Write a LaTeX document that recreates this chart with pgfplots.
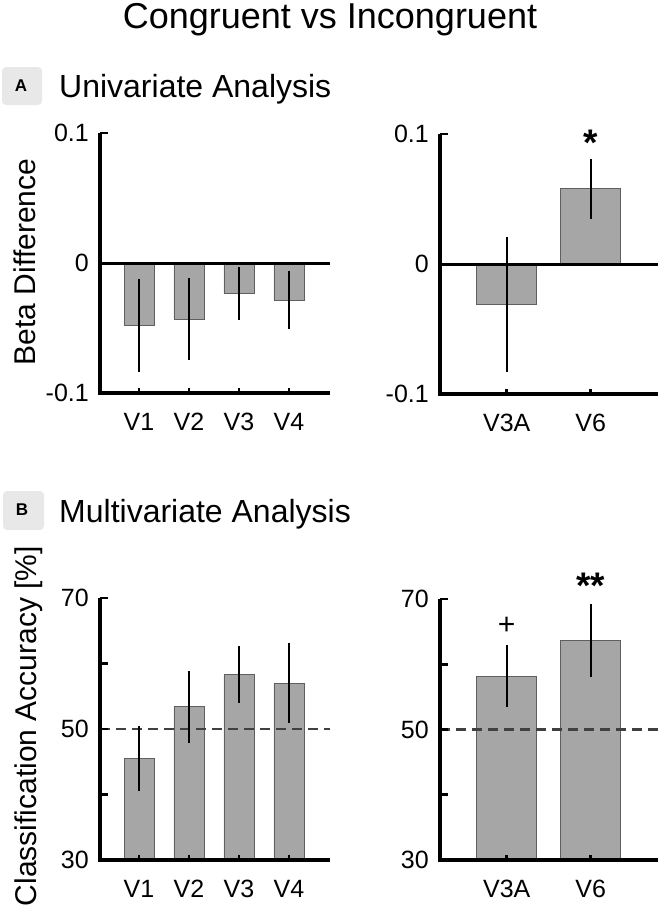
\documentclass[border=0pt]{standalone}
\usepackage{pgfplots}
\usepackage{pgfplotstable}
\pgfplotsset{compat=1.18}
\usepackage{fontspec}
\setmainfont{Liberation Sans}
\definecolor{barfill}{RGB}{166,166,166}
\definecolor{baredge}{RGB}{95,95,95}
\definecolor{dashc}{RGB}{64,64,64}
\definecolor{boxc}{RGB}{232,232,232}

\pgfplotstableread{
x y e
1 -0.048 0.036
2 -0.043 0.0316
3 -0.0235 0.0205
4 -0.0284 0.0224
}\univleft
\pgfplotstableread{
x y e
1 -0.031 0.052
2 0.058 0.023
}\univright
\pgfplotstableread{
x y e
1 45.5 5.0
2 53.4 5.5
3 58.3 4.3
4 57.0 6.1
}\multileft
\pgfplotstableread{
x y e
1 58.2 4.7
2 63.6 5.6
}\multiright

\pgfplotsset{
 panel/.style={
  scale only axis, anchor=south west,
  axis x line*=bottom, axis y line*=left,
  axis line style={draw=none},
  major tick length=0pt,
  minor tick num=0,
  clip mode=individual,
  yticklabel style={font=\fontsize{25bp}{30bp}\selectfont, inner sep=0pt, anchor=east, xshift=-11bp},
  xticklabel style={font=\fontsize{25bp}{30bp}\selectfont, inner sep=0pt, anchor=north, yshift=-20bp},
 },
 frame/.style={scale only axis, anchor=south west, hide axis, clip=false},
 leftx/.style={width=230bp, xmin=0.22, xmax=4.82},
 rightx/.style={width=218bp, xmin=0.206, xmax=2.801},
 leftp/.style={leftx, xtick={1,2,3,4}, xticklabels={V1,V2,V3,V4}},
 rightp/.style={rightx, xtick={1,2}, xticklabels={V3A,V6}},
 barst/.style={ybar, fill=barfill, draw=baredge, line width=0.8bp},
 errst/.style={draw=none, forget plot, error bars/.cd, y dir=both, y explicit, error mark=none,
   error bar style={line width=2.2bp, black, solid}},
 axln/.style={black, line width=3.2bp, forget plot},
 tk/.style={black, line width=2.6bp, forget plot},
}

\begin{document}
\begin{tikzpicture}
\useasboundingbox (0,0) rectangle (660bp,-910bp);

\node[anchor=base, inner sep=0pt, font=\fontsize{36bp}{40bp}\selectfont] at (330bp,-28bp) {Congruent vs Incongruent};

% Panel A
\fill[boxc, rounded corners=4bp] (2bp,-67bp) rectangle (42bp,-105bp);
\node[font=\bfseries\fontsize{17bp}{20bp}\selectfont] at (21bp,-86bp) {A};
\node[anchor=base west, inner sep=0pt, font=\fontsize{32bp}{36bp}\selectfont] at (59bp,-97bp) {Univariate Analysis};
\node[rotate=90, anchor=base, inner sep=0pt, font=\fontsize{30bp}{34bp}\selectfont] at (35bp,-262bp) {Beta Difference};

\begin{axis}[panel, leftp, at={(100bp,-393bp)}, height=260bp,
  ymin=-0.1, ymax=0.1, ytick={-0.1,0,0.1}, yticklabels={-0.1,0,0.1}]
\addplot[barst, bar width=0.6] table[x=x,y=y] {\univleft};
\addplot[black, line width=3bp] coordinates {(0.22,0) (4.82,0)};
\addplot[errst] table[x=x,y=y,y error=e] {\univleft};
\end{axis}
\begin{axis}[frame, leftx, at={(100bp,-393bp)}, height=260bp, ymin=-0.1, ymax=0.1]
\addplot[axln] coordinates {(0.22,0.1) (0.22,-0.1) (4.82,-0.1)};
\addplot[tk] coordinates {(0.22,0.1) (0.38,0.1)};
\addplot[tk] coordinates {(0.22,-0.1) (0.38,-0.1)};
\addplot[tk] coordinates {(1,-0.1) (1,-0.0962)};
\addplot[tk] coordinates {(2,-0.1) (2,-0.0962)};
\addplot[tk] coordinates {(3,-0.1) (3,-0.0962)};
\addplot[tk] coordinates {(4,-0.1) (4,-0.0962)};
\end{axis}

\begin{axis}[panel, rightp, at={(440bp,-394bp)}, height=260bp,
  ymin=-0.1, ymax=0.1, ytick={-0.1,0,0.1}, yticklabels={-0.1,0,0.1}]
\addplot[barst, bar width=0.714] table[x=x,y=y] {\univright};
\addplot[black, line width=3bp] coordinates {(0.206,0) (2.801,0)};
\addplot[errst] table[x=x,y=y,y error=e] {\univright};
\node[anchor=north, inner sep=0pt, font=\bfseries\fontsize{37bp}{37bp}\selectfont] at (axis cs:2,0.1031) {*};
\end{axis}
\begin{axis}[frame, rightx, at={(440bp,-394bp)}, height=260bp, ymin=-0.1, ymax=0.1]
\addplot[axln] coordinates {(0.206,0.1) (0.206,-0.1) (2.801,-0.1)};
\addplot[tk] coordinates {(0.206,0.1) (0.301,0.1)};
\addplot[tk] coordinates {(0.206,-0.1) (0.301,-0.1)};
\addplot[tk] coordinates {(1,-0.1) (1,-0.0962)};
\addplot[tk] coordinates {(2,-0.1) (2,-0.0962)};
\end{axis}

% Panel B
\fill[boxc, rounded corners=4bp] (3bp,-491bp) rectangle (44bp,-530bp);
\node[font=\bfseries\fontsize{17bp}{20bp}\selectfont] at (22bp,-510bp) {B};
\node[anchor=base west, inner sep=0pt, font=\fontsize{32bp}{36bp}\selectfont] at (59bp,-522bp) {Multivariate Analysis};
\node[rotate=90, anchor=base, inner sep=0pt, font=\fontsize{30bp}{34bp}\selectfont] at (36bp,-726bp) {Classification Accuracy [\%]};

\begin{axis}[panel, leftp, at={(100bp,-860bp)}, height=262bp,
  ymin=30, ymax=70, ytick={30,40,50,60,70}, yticklabels={30,,50,,70}]
\addplot[barst, bar width=0.6] table[x=x,y=y] {\multileft};
\addplot[dashc, line width=2.2bp, dash pattern=on 10bp off 6bp] coordinates {(0.22,50) (4.82,50)};
\addplot[errst] table[x=x,y=y,y error=e] {\multileft};
\end{axis}
\begin{axis}[frame, leftx, at={(100bp,-860bp)}, height=262bp, ymin=30, ymax=70]
\addplot[axln] coordinates {(0.22,70) (0.22,30) (4.82,30)};
\addplot[tk] coordinates {(0.22,70) (0.38,70)};
\addplot[tk] coordinates {(0.22,60) (0.38,60)};
\addplot[tk] coordinates {(0.22,50) (0.38,50)};
\addplot[tk] coordinates {(0.22,40) (0.38,40)};
\addplot[tk] coordinates {(1,30) (1,30.77)};
\addplot[tk] coordinates {(2,30) (2,30.77)};
\addplot[tk] coordinates {(3,30) (3,30.77)};
\addplot[tk] coordinates {(4,30) (4,30.77)};
\end{axis}

\begin{axis}[panel, rightp, at={(440bp,-860bp)}, height=261bp,
  ymin=30, ymax=70, ytick={30,40,50,60,70}, yticklabels={30,,50,,70}]
\addplot[barst, bar width=0.714] table[x=x,y=y] {\multiright};
\addplot[dashc, line width=2.2bp, dash pattern=on 10bp off 6bp] coordinates {(0.206,50) (2.801,50)};
\addplot[errst] table[x=x,y=y,y error=e] {\multiright};
\node[anchor=north, inner sep=0pt, font=\fontsize{30bp}{30bp}\selectfont] at (axis cs:1,67.24) {+};
\node[anchor=north, inner sep=0pt, font=\bfseries\fontsize{37bp}{37bp}\selectfont] at (axis cs:2,74.0) {**};
\end{axis}
\begin{axis}[frame, rightx, at={(440bp,-860bp)}, height=261bp, ymin=30, ymax=70]
\addplot[axln] coordinates {(0.206,70) (0.206,30) (2.801,30)};
\addplot[tk] coordinates {(0.206,70) (0.301,70)};
\addplot[tk] coordinates {(0.206,60) (0.301,60)};
\addplot[tk] coordinates {(0.206,50) (0.301,50)};
\addplot[tk] coordinates {(0.206,40) (0.301,40)};
\addplot[tk] coordinates {(1,30) (1,30.77)};
\addplot[tk] coordinates {(2,30) (2,30.77)};
\end{axis}
\end{tikzpicture}
\end{document}
